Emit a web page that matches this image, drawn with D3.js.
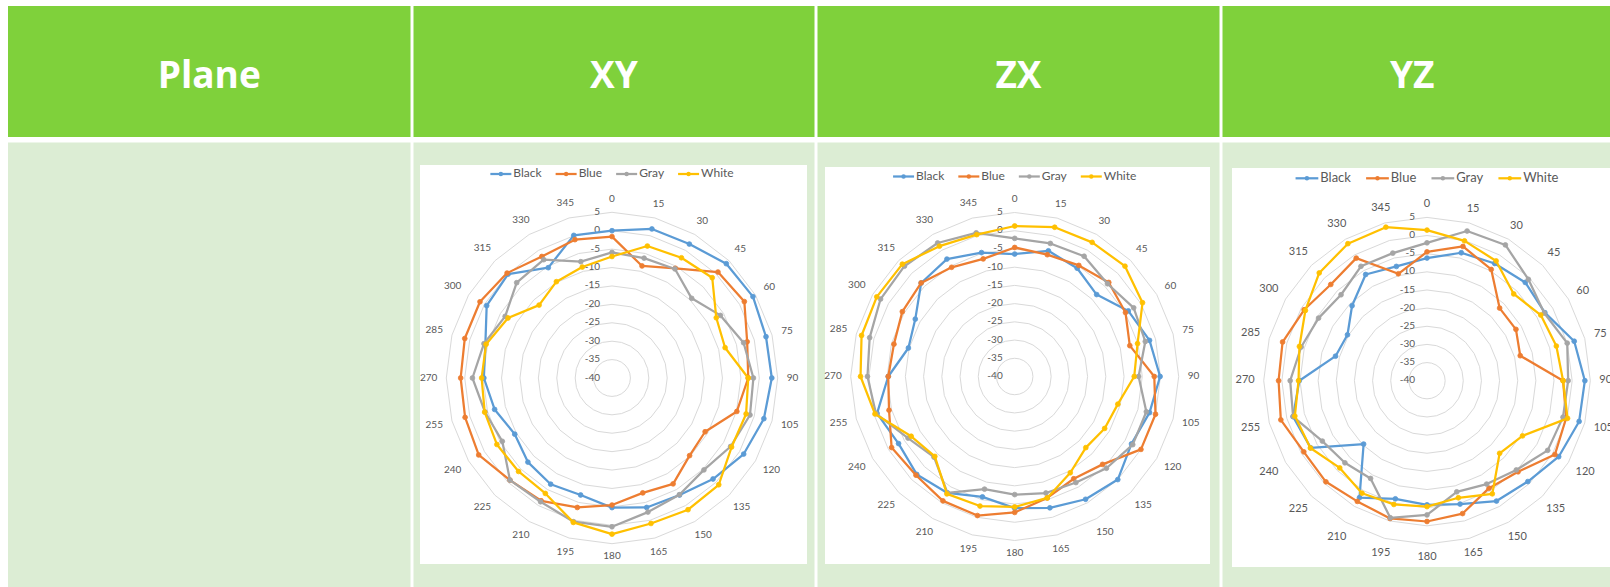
<!DOCTYPE html>
<html>
<head>
<meta charset="utf-8">
<script src="https://cdn.jsdelivr.net/npm/d3@7/dist/d3.min.js"></script>
<style>
  html, body { margin: 0; padding: 0; background: #ffffff; }
  svg { display: block; }
</style>
</head>
<body>
<svg id="chart" width="1610" height="587"></svg>
<script>
// ---- data -------------------------------------------------------------
const headers = ["Plane", "XY", "ZX", "YZ"];
const seriesNames = ["Black", "Blue", "Gray", "White"];
const seriesColors = ["#5b9bd5", "#ed7d31", "#a5a5a5", "#ffc000"];
const angleCategories = [0, 15, 30, 45, 60, 75, 90, 105, 120, 135, 150, 165,
                         180, 195, 210, 225, 240, 255, 270, 285, 300, 315, 330, 345];
const valueTicks = [5, 0, -5, -10, -15, -20, -25, -30, -35, -40];

// XY plane
const xyBlack = [0.0, 1.9, 2.0, 3.9, 4.2, 3.3, 3.4, 2.7, 1.3, -1.2, -3.3, -3.6,
                 -4.8, -7.1, -6.7, -7.7, -9.5, -7.0, -5.2, -4.4, -0.7, -0.1, -5.4, 0.1];
const xyBlue  = [-1.6, -8.5, -5.6, 0.7, 1.5, -2.0, -3.0, -4.9, -10.8, -10.2, -6.8, -7.7,
                 -5.5, -3.6, -1.5, -0.8, 1.8, 1.3, 1.1, 1.4, 1.4, 0.3, -1.9, -1.1];
const xyGray  = [-5.9, -6.3, -5.8, -9.4, -6.0, -3.0, -1.6, -1.2, -2.8, -4.7, -3.4, -2.3,
                 0.4, 0.4, -1.2, -0.8, -5.6, -4.3, -2.1, -4.0, -6.5, -3.4, -2.9, -7.3];
const xyWhite = [-7.0, -2.9, -2.3, -1.5, -7.3, -8.2, -3.0, -2.3, -2.5, 1.0, 1.3, 0.9,
                 2.4, 0.6, -3.8, -4.1, -3.9, -4.2, -4.6, -4.6, -7.4, -12.0, -9.8, -8.8];

// ZX plane
const zxBlack = [-6.4, -4.3, -5.7, -8.2, -4.0, -1.7, -0.1, -1.7, -3.0, 0.0, -1.1, -2.7,
                 -3.9, -5.8, -3.1, -2.0, -3.2, -0.9, -5.3, -9.8, -8.5, -3.7, -2.8, -4.8];
const zxBlue  = [-4.6, -5.4, -4.8, -3.5, -4.9, -7.3, -1.7, 0.0, 0.0, -5.9, -7.6, -5.5,
                 -2.7, -0.5, -0.6, -1.7, -1.0, -4.3, -5.3, -5.7, -4.4, -3.7, -5.4, -6.6];
const zxGray  = [-2.1, -2.2, -1.9, -4.0, -2.3, -2.9, -6.0, -2.6, -2.6, -4.4, -6.4, -6.9,
                 -7.6, -8.0, -3.1, -8.7, -6.2, -0.6, 0.4, 1.2, 2.5, 2.8, 2.3, 0.8];
const zxWhite = [1.3, 2.4, 2.5, 2.8, 0.5, -5.1, -7.2, -10.7, -11.5, -12.4, -9.5, -5.5,
                 -4.2, -3.2, -2.8, -9.0, -7.2, -0.3, 2.3, 3.5, 3.7, 3.6, 1.3, 0.3];

// YZ plane
const yzBlack = [-6.2, -3.5, -2.7, -1.7, -2.5, 2.0, 3.5, 3.4, 1.9, -0.7, -1.7, -4.8,
                 -5.8, -6.3, -2.8, -15.3, -3.0, -1.8, -4.8, -13.9, -14.7, -10.8, -6.2, -7.4];
const yzBlue  = [-4.5, -1.7, -4.6, -11.7, -11.7, -13.4, -2.5, -0.3, 0.7, -4.5, -5.8, -2.1,
                 -1.2, -0.7, -1.6, -0.6, -0.8, 1.7, 0.9, 1.2, -0.9, -2.5, -1.0, -9.5];
const yzGray  = [-2.0, 2.7, 3.2, -0.5, -2.7, 0.0, -1.1, -1.2, -1.6, -5.2, -7.1, -8.3,
                 -3.0, -0.9, -8.9, -8.0, -6.7, -1.8, -2.3, -4.1, -5.5, -6.5, -3.6, -3.6];
const yzWhite = [1.5, -0.1, -1.9, -6.2, -3.8, -3.1, -2.5, 0.1, -9.6, -11.7, -4.0, -6.6,
                 -5.3, -4.7, -4.2, -6.0, -2.9, -2.3, -4.6, -3.6, -1.3, 2.0, 3.6, 3.8];

// ---- layout -----------------------------------------------------------
const W = 1610, H = 587;
const headerGreen = "#7fd13b";
const bodyGreen = "#dcedd4";
const labelColor = "#595959";
const gridColor = "#d9d9d9";

const columns = [[8, 410.5], [413.5, 814.5], [817.5, 1219.5], [1222.5, 1610]];
const headerRow = [6, 137];
const bodyRow = [142.5, 587];

const panels = [
  { series: [xyBlack, xyBlue, xyGray, xyWhite], box: [420, 165, 807, 564],
    cx: 612, cy: 378, R: 165.7, legendY: 174, legendFont: 12, catFont: 10, valFont: 10 },
  { series: [zxBlack, zxBlue, zxGray, zxWhite], box: [825, 167, 1210, 564],
    cx: 1014.7, cy: 376.5, R: 164, legendY: 176.5, legendFont: 12, catFont: 10, valFont: 10 },
  { series: [yzBlack, yzBlue, yzGray, yzWhite], box: [1232, 168, 1615, 567],
    cx: 1427, cy: 380.7, R: 163.3, legendY: 178.3, legendFont: 13, catFont: 11, valFont: 10 }
];

const svg = d3.select("#chart");
const font = "Lato, 'Open Sans', sans-serif";
const headerFont = "'Open Sans', Lato, sans-serif";

// ---- table ------------------------------------------------------------
const table = svg.append("g").attr("class", "table");
columns.forEach(([x0, x1], i) => {
  table.append("rect")
    .attr("x", x0).attr("y", headerRow[0])
    .attr("width", x1 - x0).attr("height", headerRow[1] - headerRow[0])
    .attr("fill", headerGreen);
  table.append("rect")
    .attr("x", x0).attr("y", bodyRow[0])
    .attr("width", x1 - x0).attr("height", bodyRow[1] - bodyRow[0])
    .attr("fill", bodyGreen);
  table.append("text")
    .attr("x", (x0 + Math.min(x1, 1220 + 404)) / 2 + (i === 3 ? -4 : 0))
    .attr("y", 88)
    .attr("text-anchor", "middle")
    .attr("font-family", headerFont)
    .attr("font-weight", 700)
    .attr("font-size", 37)
    .attr("fill", "#ffffff")
    .text(headers[i]);
});

// ---- radar panels -----------------------------------------------------
const angle = d3.scaleLinear().domain([0, 360]).range([0, 2 * Math.PI]);

panels.forEach(p => {
  const [bx0, by0, bx1, by1] = p.box;
  const g = svg.append("g").attr("class", "panel");

  g.append("rect")
    .attr("x", bx0).attr("y", by0)
    .attr("width", Math.min(bx1, W) - bx0).attr("height", by1 - by0)
    .attr("fill", "#ffffff");

  const r = d3.scaleLinear().domain([-40, 5]).range([0, p.R]);
  const plot = g.append("g").attr("transform", `translate(${p.cx},${p.cy})`);

  // polygonal gridlines, one per value tick
  const ring = d3.lineRadial()
    .angle(a => angle(a))
    .curve(d3.curveLinearClosed);
  plot.append("g").selectAll("path")
    .data(valueTicks.filter(t => t > -40))
    .join("path")
    .attr("d", t => ring.radius(() => r(t))(angleCategories))
    .attr("fill", "none")
    .attr("stroke", gridColor)
    .attr("stroke-width", 1);

  // value axis labels
  plot.append("g").selectAll("text")
    .data(valueTicks)
    .join("text")
    .attr("x", -12)
    .attr("y", t => -r(t))
    .attr("text-anchor", "end")
    .attr("dominant-baseline", "middle")
    .attr("font-family", font)
    .attr("font-size", p.valFont)
    .attr("fill", labelColor)
    .text(t => t);

  // category labels around the outer ring
  const cats = plot.append("g").selectAll("text")
    .data(angleCategories)
    .join("text")
    .attr("text-anchor", "middle")
    .attr("dominant-baseline", "middle")
    .attr("font-family", font)
    .attr("font-size", p.catFont)
    .attr("fill", labelColor)
    .text(a => a);
  cats.each(function (a) {
    const w = this.getComputedTextLength();
    const h = p.catFont * 0.72;
    const th = angle(a);
    const s = Math.sin(th), c = Math.cos(th);
    const rr = p.R + 9 + Math.abs(s) * w / 2 + Math.abs(c) * h / 2;
    d3.select(this).attr("x", rr * s).attr("y", -rr * c);
  });

  // series lines and markers
  const line = d3.lineRadial()
    .angle((d, i) => angle(angleCategories[i]))
    .radius(d => r(d))
    .curve(d3.curveLinearClosed);
  p.series.forEach((vals, si) => {
    const sg = plot.append("g");
    sg.append("path")
      .attr("d", line(vals))
      .attr("fill", "none")
      .attr("stroke", seriesColors[si])
      .attr("stroke-width", 2.25)
      .attr("stroke-linejoin", "round");
    sg.selectAll("circle")
      .data(vals)
      .join("circle")
      .attr("cx", (d, i) => r(d) * Math.sin(angle(angleCategories[i])))
      .attr("cy", (d, i) => -r(d) * Math.cos(angle(angleCategories[i])))
      .attr("r", 2.4)
      .attr("fill", seriesColors[si])
      .attr("stroke", seriesColors[si])
      .attr("stroke-width", 0.8);
  });

  // legend across the top, centred on the plot
  const legend = g.append("g");
  const items = legend.selectAll("g")
    .data(seriesNames)
    .join("g");
  const symW = 21 * p.legendFont / 12, gap = 2, spacing = 14 * p.legendFont / 12;
  items.append("line")
    .attr("x1", 0).attr("x2", symW)
    .attr("y1", 0).attr("y2", 0)
    .attr("stroke", (d, i) => seriesColors[i])
    .attr("stroke-width", 2.25);
  items.append("circle")
    .attr("cx", symW / 2).attr("cy", 0).attr("r", 2.2)
    .attr("fill", (d, i) => seriesColors[i]);
  items.append("text")
    .attr("x", symW + gap)
    .attr("y", 0)
    .attr("dominant-baseline", "middle")
    .attr("font-family", font)
    .attr("font-size", p.legendFont)
    .attr("fill", labelColor)
    .text(d => d);
  let x = 0;
  const widths = [];
  items.each(function () {
    const tw = d3.select(this).select("text").node().getComputedTextLength();
    widths.push(symW + gap + tw);
  });
  const total = d3.sum(widths) + spacing * (widths.length - 1);
  items.attr("transform", (d, i) => {
    const t = `translate(${x},0)`;
    x += widths[i] + spacing;
    return t;
  });
  legend.attr("transform", `translate(${p.cx - total / 2},${p.legendY})`);
});
</script>
</body>
</html>
